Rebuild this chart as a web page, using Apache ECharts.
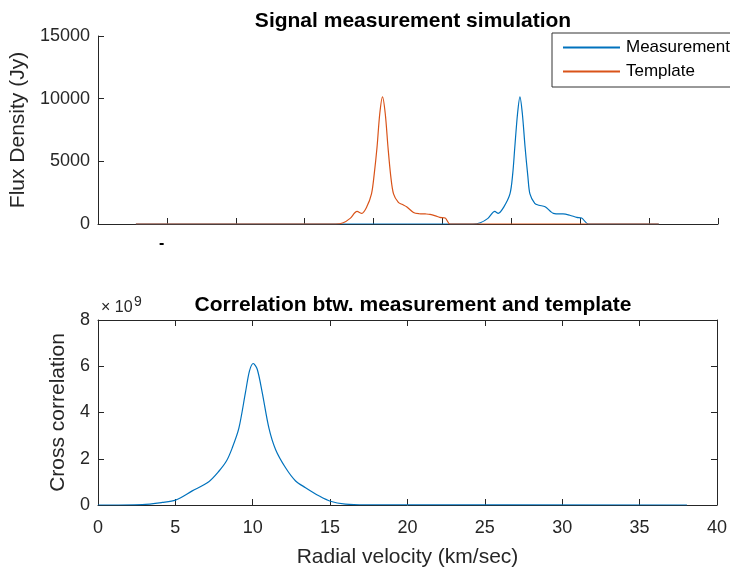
<!DOCTYPE html>
<html><head><meta charset="utf-8">
<script src="https://cdn.jsdelivr.net/npm/echarts@6/dist/echarts.min.js"></script>
<style>html,body{margin:0;padding:0;background:#fff}#c{width:730px;height:569px}</style>
</head><body><div id="c"></div>
<script>
// Top panel (x in tick units of the unlabeled top axis)
var tplX = [0.55, 3.45, 3.56, 3.66, 3.76, 3.83, 3.90, 3.97, 4.01, 4.05, 4.09, 4.13, 4.17, 4.21, 4.25, 4.29, 4.36, 4.42, 4.48, 4.58, 4.66, 4.75, 4.82, 4.90, 4.96, 5.04, 5.11, 8.14];
var tplY = [0, 0, 100, 450, 1000, 850, 1350, 2400, 4000, 6100, 8800, 10150, 8800, 6100, 3800, 2400, 1720, 1550, 1380, 925, 820, 800, 770, 650, 530, 480, 0, 0];
var measX = [0.55, 5.44, 5.55, 5.66, 5.76, 5.81, 5.89, 5.98, 6.02, 6.05, 6.09, 6.125, 6.16, 6.20, 6.24, 6.27, 6.34, 6.40, 6.49, 6.57, 6.61, 6.70, 6.75, 6.85, 6.95, 7.02, 7.12, 8.14];
var measY = [0, 0, 100, 450, 1000, 850, 1350, 2400, 4000, 6100, 8800, 10150, 8800, 6100, 3800, 2400, 1650, 1500, 1380, 1000, 850, 800, 800, 700, 530, 480, 0, 0];
// Bottom panel (cross correlation in units of 1e9)
var corrX = [0, 2.86, 4.15, 5.01, 6.09, 7.16, 7.81, 8.30, 8.67, 9.10, 9.53, 9.79, 10.03, 10.29, 10.61, 11.05, 11.48, 12.12, 12.77, 13.41, 14.27, 15.02, 15.99, 17.3, 38.06];
var corrY_e9 = [0, 0.02, 0.11, 0.21, 0.61, 1.01, 1.46, 1.9, 2.46, 3.31, 4.87, 5.80, 6.12, 5.87, 4.87, 3.31, 2.39, 1.61, 1.04, 0.75, 0.40, 0.16, 0.04, 0.01, 0];

function pairs(xs, ys){ return xs.map(function(x,i){return [x, ys[i]];}); }
var FONT = '"Liberation Sans", Arial, sans-serif';
var TXT = '#262626';
var blue = '#0072BD', orange = '#D95319';
var axLine = {show:true, onZero:false, lineStyle:{color:'#262626', width:1}};
var tick = {show:true, inside:true, length:6, lineStyle:{color:'#262626'}};
var plain = function(v){ return String(v); };

var chart = echarts.init(document.getElementById('c'));
chart.setOption({
  animation:false,
  textStyle:{fontFamily:FONT},
  title:[
    {text:'Signal measurement simulation', left:408, top:6, textAlign:'center',
     textStyle:{fontFamily:FONT, fontSize:21, fontWeight:'bold', color:'#000'}},
    {text:'Correlation btw. measurement and template', left:408, top:290, textAlign:'center',
     textStyle:{fontFamily:FONT, fontSize:21, fontWeight:'bold', color:'#000'}}
  ],
  legend:{
    left:552, top:33, orient:'vertical', itemGap:7, padding:[6,20,7,11],
    borderColor:'#333', borderWidth:1, backgroundColor:'#fff',
    itemWidth:57, itemHeight:2, icon:'rect',
    textStyle:{fontFamily:FONT, fontSize:17, color:'#000', padding:[0,0,0,1]},
    data:[{name:'Measurement'},{name:'Template'}]
  },
  grid:[
    {left:98, right:12, top:36, height:188},
    {left:98, right:12, top:320, height:188}
  ],
  xAxis:[
    {gridIndex:0, type:'value', min:0, max:9, interval:1, axisLine:axLine, axisTick:tick,
     axisLabel:{show:false}, splitLine:{show:false}},
    {gridIndex:1, type:'value', min:0, max:40, interval:5, axisLine:axLine, axisTick:tick,
     axisLabel:{color:TXT, fontSize:18, fontFamily:FONT, margin:14, formatter:plain}, splitLine:{show:false},
     name:'Radial velocity (km/sec)', nameLocation:'middle', nameGap:42,
     nameTextStyle:{color:TXT, fontSize:21, fontFamily:FONT}},
    {gridIndex:1, type:'value', position:'top', min:0, max:40, interval:5, axisLine:axLine, axisTick:tick,
     axisLabel:{show:false}, splitLine:{show:false}}
  ],
  yAxis:[
    {gridIndex:0, type:'value', min:0, max:15000, interval:5000, axisLine:axLine, axisTick:tick,
     axisLabel:{color:TXT, fontSize:18, fontFamily:FONT, margin:8, formatter:plain}, splitLine:{show:false},
     name:'Flux Density (Jy)', nameLocation:'middle', nameGap:65,
     nameTextStyle:{color:TXT, fontSize:21, fontFamily:FONT}},
    {gridIndex:1, type:'value', min:0, max:8, interval:2, axisLine:axLine, axisTick:tick,
     axisLabel:{color:TXT, fontSize:18, fontFamily:FONT, margin:8, formatter:plain}, splitLine:{show:false},
     name:'Cross correlation', nameLocation:'middle', nameGap:24,
     nameTextStyle:{color:TXT, fontSize:21, fontFamily:FONT}},
    {gridIndex:1, type:'value', position:'right', min:0, max:8, interval:2, axisLine:axLine, axisTick:tick,
     axisLabel:{show:false}, splitLine:{show:false}}
  ],
  series:[
    {name:'Measurement', type:'line', xAxisIndex:0, yAxisIndex:0, data:pairs(measX, measY),
     showSymbol:false, smooth:0.3, lineStyle:{color:blue, width:1.2}, itemStyle:{color:blue}},
    {name:'Template', type:'line', xAxisIndex:0, yAxisIndex:0, data:pairs(tplX, tplY),
     showSymbol:false, smooth:0.3, lineStyle:{color:orange, width:1.2}, itemStyle:{color:orange}},
    {name:'corr', type:'line', xAxisIndex:1, yAxisIndex:1, data:pairs(corrX, corrY_e9),
     showSymbol:false, smooth:0.3, lineStyle:{color:blue, width:1.2}, itemStyle:{color:blue}}
  ],
  graphic:[
    {type:'text', left:101, top:300, style:{text:'× 10', fill:TXT, fontSize:16, fontFamily:FONT}},
    {type:'text', left:134, top:295, style:{text:'9', fill:TXT, fontSize:14, fontFamily:FONT}},
    {type:'text', left:159, top:236, style:{text:'-', fill:'#000', fontSize:16, fontFamily:FONT, fontWeight:'bold'}}
  ]
});
</script></body></html>
